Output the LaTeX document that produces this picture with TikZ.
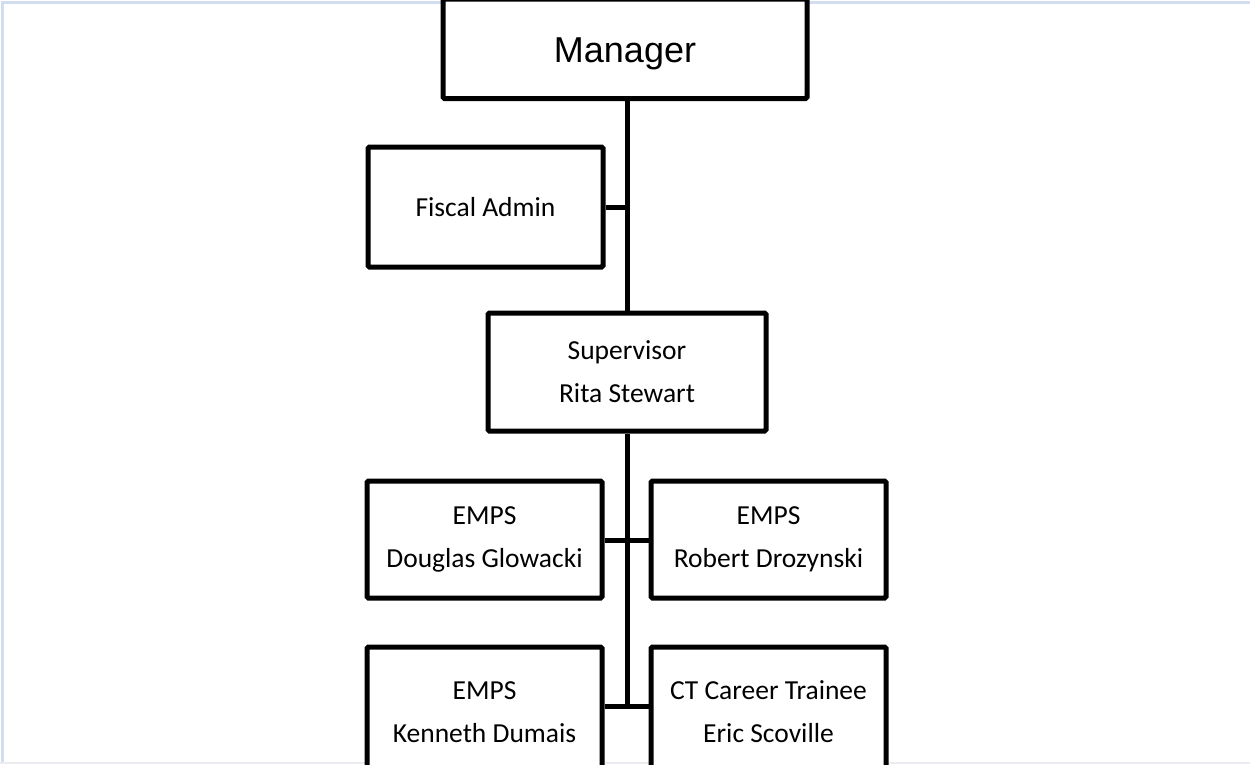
\documentclass[tikz,border=0pt]{standalone}
\usepackage{fontspec}
\setmainfont{Carlito}
\newfontfamily\arialf{Liberation Sans}
\definecolor{frameblue}{HTML}{D2DDF0}
\definecolor{framegray}{HTML}{ECECF2}
\tikzset{
  orgbox/.style={draw=black, line width=5pt, rounded corners=1.5pt, fill=white,
    align=center, inner sep=0pt, font=\fontsize{27.5}{43}\selectfont},
  conn/.style={draw=black, line width=5pt}
}
\begin{document}
\begin{tikzpicture}[x=1pt,y=-1pt]
\useasboundingbox (0,0) rectangle (1250,764);
\clip (0,0) rectangle (1250,764);
\fill[white] (0,0) rectangle (1250,764);
\draw[frameblue, line width=3pt] (2.5,764) -- (2.5,2.5) -- (1250,2.5);
\draw[framegray, line width=2pt] (0,763) -- (1250,763);

\node[orgbox, minimum width=364pt, minimum height=99.5pt] (mgr) at (625,48.75) {};
\node[font=\arialf\fontsize{36}{40}\selectfont, inner sep=0pt] (mgrt) at (mgr.center) [yshift=-5.25pt] {Manager};
\node[orgbox, minimum width=235pt, minimum height=120pt] (fis) at (485.5,207) {Fiscal Admin};
\node[orgbox, minimum width=278pt, minimum height=118pt] (sup) at (627,372) {Supervisor\\Rita Stewart};
\node[orgbox, minimum width=235pt, minimum height=117pt] (dg) at (484.5,539.5) {EMPS\\Douglas Glowacki};
\node[orgbox, minimum width=235pt, minimum height=117pt] (rd) at (768.5,539.5) {EMPS\\Robert Drozynski};
\node[orgbox, minimum width=235pt, minimum height=130pt] (kd) at (484.5,712) {EMPS\\Kenneth Dumais};
\node[orgbox, minimum width=235pt, minimum height=130pt] (es) at (768.5,712) {CT Career Trainee\\Eric Scoville};

\coordinate (j1) at (627,540);
\coordinate (j2) at (627,706);

\draw[conn] (sup.north) -- (sup.north |- mgr.south);
\draw[conn] (fis.east) -- (fis.east -| sup.north);
\draw[conn] (sup.south) -- (j2);
\draw[conn] (dg.east |- j1) -- (rd.west |- j1);
\draw[conn] (kd.east |- j2) -- (es.west |- j2);
\end{tikzpicture}
\end{document}
